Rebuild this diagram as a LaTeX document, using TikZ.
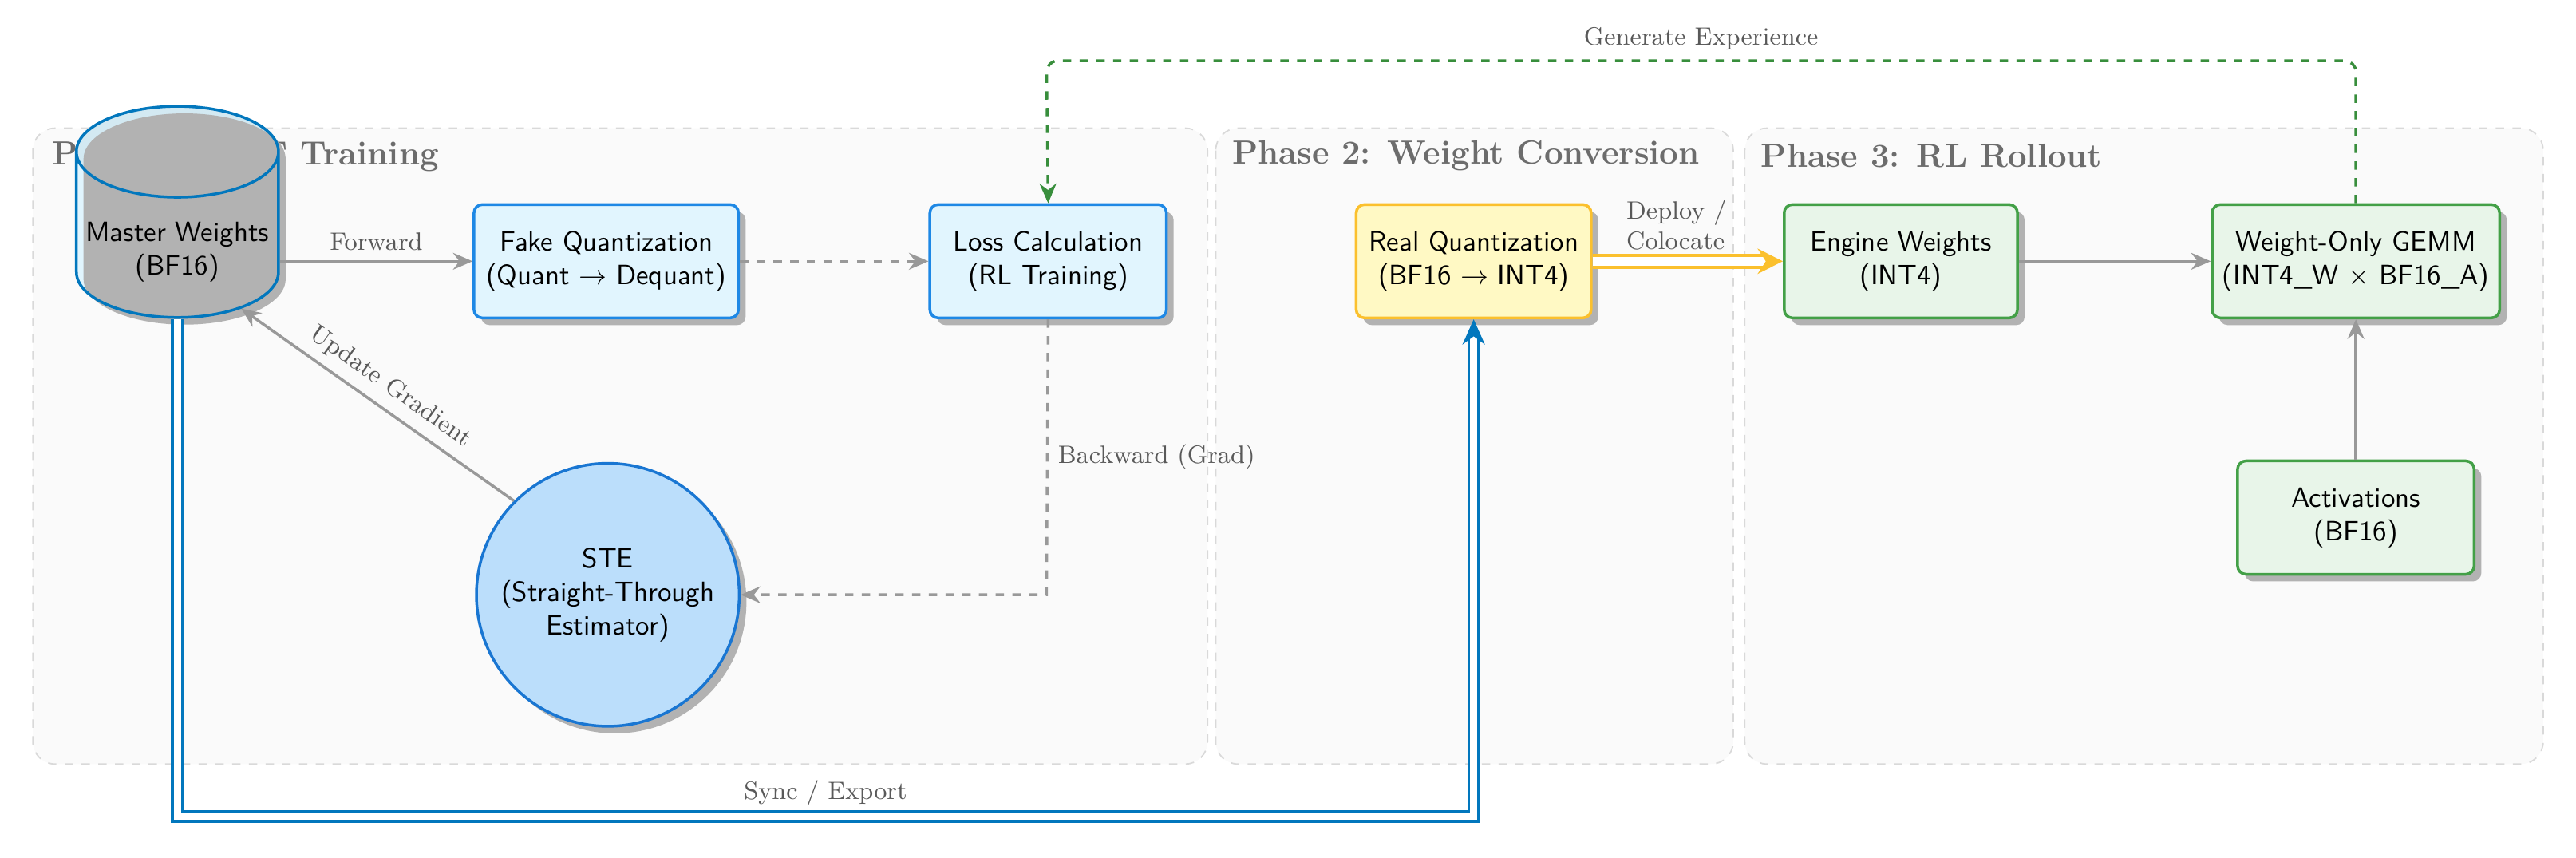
\documentclass[tikz,border=0pt]{standalone}
\usetikzlibrary{shapes.geometric,shadows,arrows.meta}
\definecolor{bfill}{HTML}{E1F5FE}
\definecolor{bline}{HTML}{1E88E5}
\definecolor{cline}{HTML}{0277BD}
\definecolor{ctop}{HTML}{D3E9F2}
\definecolor{sfill}{HTML}{BBDEFB}
\definecolor{sline}{HTML}{1976D2}
\definecolor{yfill}{HTML}{FFF9C4}
\definecolor{yline}{HTML}{FBC02D}
\definecolor{gfill}{HTML}{E8F5E9}
\definecolor{gline}{HTML}{43A047}
\definecolor{ggreen}{HTML}{388E3C}
\begin{document}
\begin{tikzpicture}[x=0.0207cm,y=-0.0207cm,
  panel/.style={draw=gray!30,dashed,fill=gray!4,rounded corners=8pt,line width=0.5pt},
  ptitle/.style={anchor=west,font=\large\bfseries,text=gray!85!black},
  box/.style={rectangle,rounded corners=3pt,line width=1pt,align=center,font=\sffamily,
    drop shadow={shadow xshift=0.9mm,shadow yshift=-0.9mm,fill=gray!60,opacity=1}},
  bbox/.style={box,fill=bfill,draw=bline},
  ybox/.style={box,fill=yfill,draw=yline},
  gbox/.style={box,fill=gfill,draw=gline},
  lbl/.style={font=\small,text=gray!70!black},
  garr/.style={draw=gray!80,line width=1pt,-{Stealth[length=7pt,width=6pt]}}]
\useasboundingbox (0,0) rectangle (1568,522);
\draw[panel] (20,78) rectangle (735,465);
\draw[panel] (740,78) rectangle (1055,465);
\draw[panel] (1062,78) rectangle (1548,465);
\node[ptitle] (t1) at (26,95) {Phase 1: QAT Training};
\node[ptitle] (t2) at (744,95) {Phase 2: Weight Conversion};
\node[ptitle] (t3) at (1066,95) {Phase 3: RL Rollout};

\node[cylinder,shape border rotate=90,aspect=0.45,draw=cline,line width=1pt,
  cylinder uses custom fill,cylinder body fill=bfill,cylinder end fill=ctop,
  minimum width=86*0.0207cm,minimum height=125*0.0207cm,align=center,font=\sffamily,
  drop shadow={shadow xshift=0.9mm,shadow yshift=-0.9mm,fill=gray!60,opacity=1}]
  (mw) at (108,149) {\\Master Weights\\(BF16)};
\node[bbox,minimum width=161*0.0207cm,minimum height=69*0.0207cm] (fq) at (369,159) {Fake Quantization\\(Quant $\rightarrow$ Dequant)};
\node[bbox,minimum width=144*0.0207cm,minimum height=69*0.0207cm] (lc) at (638,159) {Loss Calculation\\(RL Training)};
\node[circle,draw=sline,fill=sfill,line width=1pt,minimum size=160*0.0207cm,align=center,font=\sffamily,
  drop shadow={shadow xshift=0.9mm,shadow yshift=-0.9mm,fill=gray!60,opacity=1}]
  (ste) at (370,362) {STE\\(Straight-Through\\Estimator)};
\node[ybox,minimum width=143*0.0207cm,minimum height=69*0.0207cm] (rq) at (897,159) {Real Quantization\\(BF16 $\rightarrow$ INT4)};
\node[gbox,minimum width=142*0.0207cm,minimum height=69*0.0207cm] (ew) at (1157,159) {Engine Weights\\(INT4)};
\node[gbox,minimum width=175*0.0207cm,minimum height=69*0.0207cm] (gm) at (1434,159) {Weight-Only GEMM\\(INT4\_W $\times$ BF16\_A)};
\node[gbox,minimum width=144*0.0207cm,minimum height=69*0.0207cm] (ac) at (1434,315) {Activations\\(BF16)};

\draw[garr] (mw.east|-fq) -- node[lbl,above] {Forward} (fq.west);
\draw[garr,dashed] (fq.east) -- (lc.west);
\coordinate (bk) at (637,362);
\draw[garr,dashed] (lc.south) -- (bk) -- (ste.east);
\node[lbl,anchor=west] (bl) at (638,278) {Backward (Grad)};
\draw[garr] (ste.north west) -- node[lbl,above,sloped] {Update Gradient} (mw.south east);
\coordinate (s1) at (108,497);
\coordinate (s2) at (897,497);
\draw[cline,double,double distance=2.5pt,line width=1pt,-{Stealth[length=9pt,width=8pt]}]
  (mw.bottom) -- (s1) -- node[lbl,above] {Sync / Export} (s2) -- (rq.south);
\draw[yline,double,double distance=3pt,line width=1.3pt,-{Stealth[length=9pt,width=9pt]}]
  (rq.east) -- node[lbl,above,align=left,xshift=-4pt] {Deploy /\\Colocate} (ew.west);
\draw[garr] (ew.east) -- (gm.west);
\draw[garr] (ac.north) -- (gm.south);
\coordinate (g1) at (1434,37);
\coordinate (g2) at (637,37);
\draw[ggreen,dashed,line width=1pt,rounded corners=4pt,-{Stealth[length=7pt,width=6pt]}]
  (gm.north) -- (g1) -- node[lbl,above] {Generate Experience} (g2) -- (lc.north);
\end{tikzpicture}
\end{document}
